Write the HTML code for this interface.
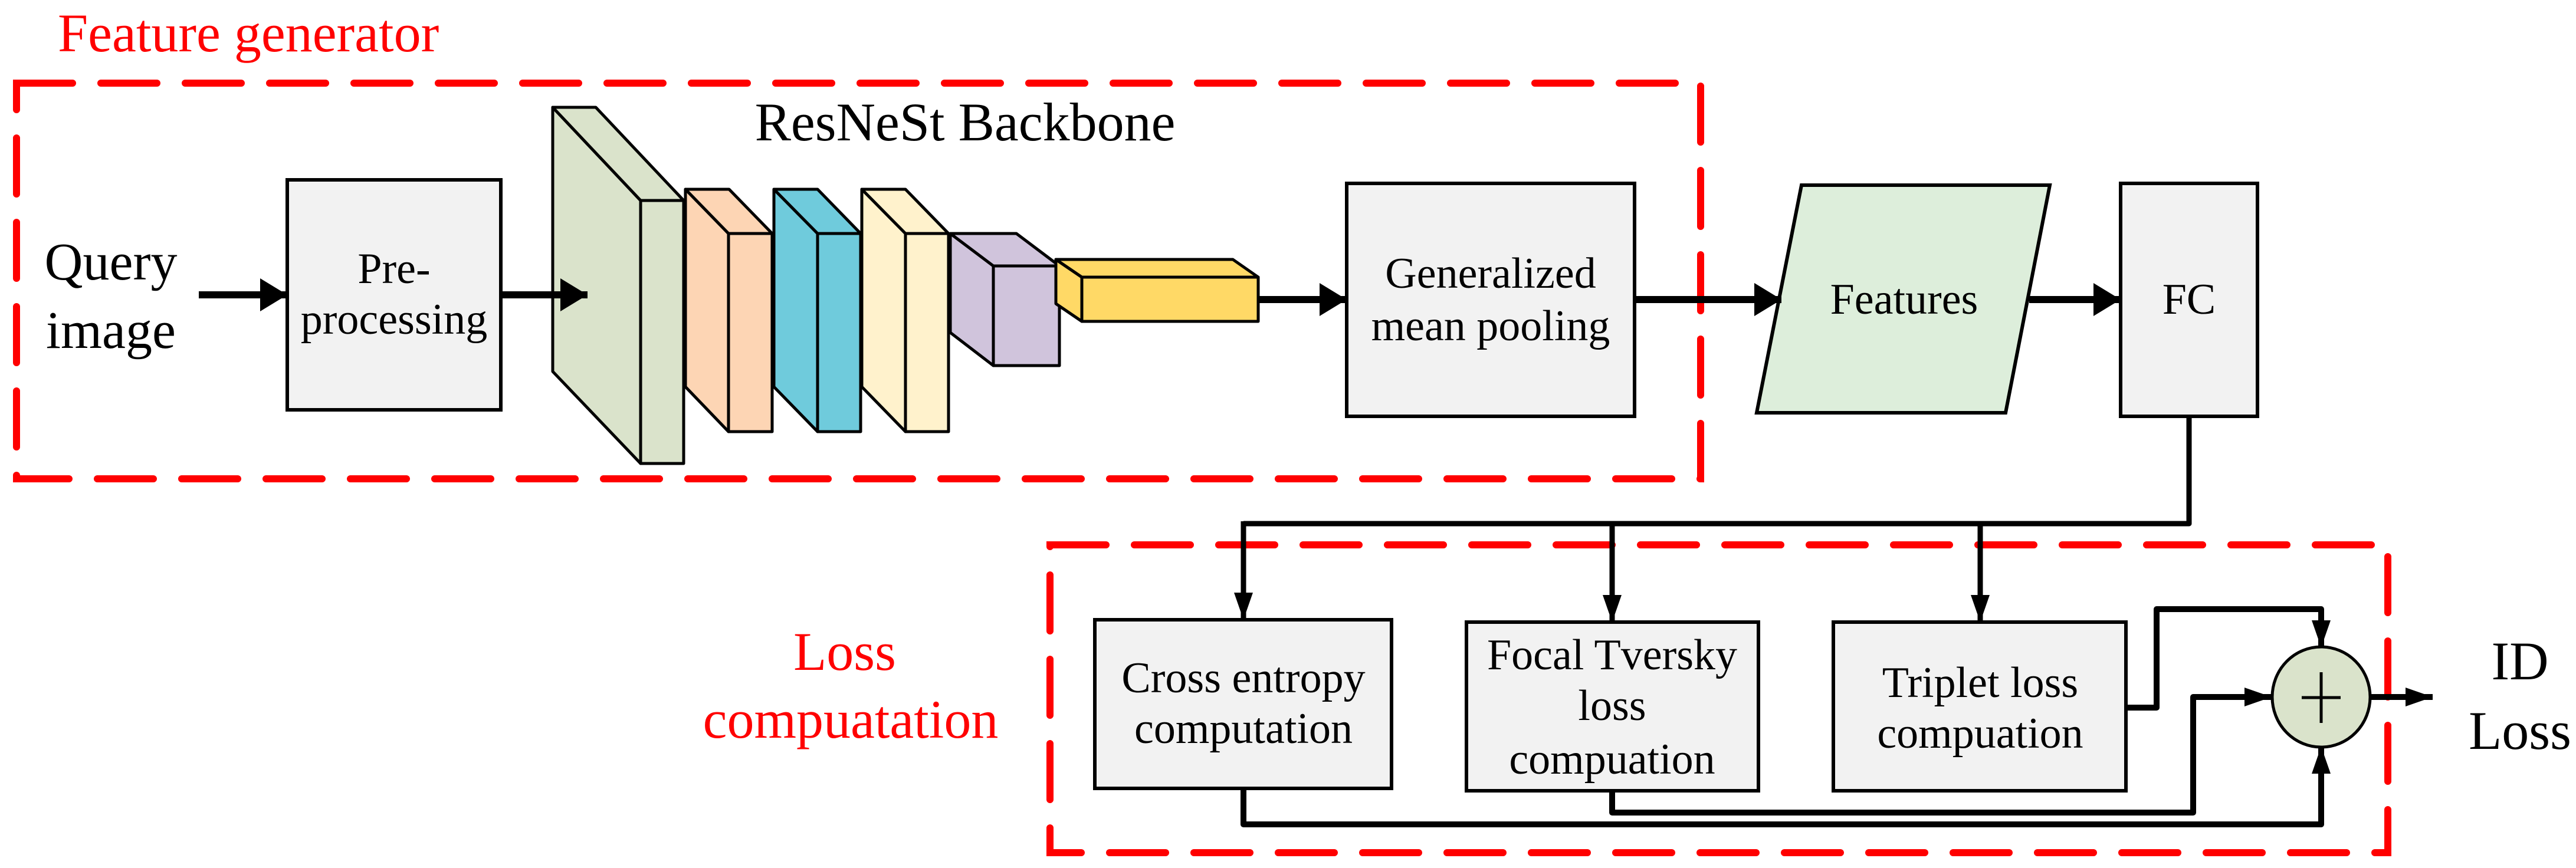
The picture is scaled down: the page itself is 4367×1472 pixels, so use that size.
<!DOCTYPE html>
<html><head><meta charset="utf-8"><style>
html,body{margin:0;padding:0;background:#fff;}
svg{display:block;}
</style></head><body>
<svg width="4367" height="1472" viewBox="0 0 4367 1472" xmlns="http://www.w3.org/2000/svg" font-family="'Liberation Serif', 'Times New Roman', serif">
<defs>
<marker id="ah" markerUnits="userSpaceOnUse" markerWidth="50" markerHeight="60" refX="46" refY="28" orient="auto">
<path d="M0,0 L46,28 L0,56 Z" fill="#000"/>
</marker>
<marker id="ahs" markerUnits="userSpaceOnUse" markerWidth="50" markerHeight="50" refX="46" refY="16" orient="auto">
<path d="M0,0 L46,16 L0,32 Z" fill="#000"/>
</marker>
</defs>

<!-- dashed boxes -->
<rect x="28" y="141" width="2855" height="671" fill="none" stroke="#ff0000" stroke-width="12" stroke-dasharray="95 48" stroke-linecap="round"/>
<rect x="1780" y="924" width="2268" height="522" fill="none" stroke="#ff0000" stroke-width="12" stroke-dasharray="95 48" stroke-linecap="round"/>

<text x="98" y="87" font-size="92" fill="#ff0000" font-family="'Liberation Serif', serif">Feature generator</text>
<text x="1432" y="1136" font-size="92" fill="#ff0000" text-anchor="middle" font-family="'Liberation Serif', serif">Loss</text>
<text x="1442" y="1251" font-size="92" fill="#ff0000" text-anchor="middle" font-family="'Liberation Serif', serif">compuatation</text>

<!-- Query image -->
<text x="188" y="474" font-size="90" text-anchor="middle" font-family="'Liberation Serif', serif">Query</text>
<text x="188" y="590" font-size="90" text-anchor="middle" font-family="'Liberation Serif', serif">image</text>

<!-- Pre-processing -->
<rect x="487" y="305" width="362" height="390" fill="#f2f2f2" stroke="#000" stroke-width="6"/>
<text x="668" y="480" font-size="74" text-anchor="middle" font-family="'Liberation Serif', serif">Pre-</text>
<text x="668" y="566" font-size="74" text-anchor="middle" font-family="'Liberation Serif', serif">processing</text>

<!-- Backbone slabs -->
<g stroke="#000" stroke-width="5" stroke-linejoin="round">
<g fill="#dae3cb">
<polygon points="937,182 1086,340 1086,786 937,630"/>
<polygon points="937,182 1010,182 1159,340 1086,340"/>
<rect x="1086" y="340" width="73" height="446"/>
</g>
<g fill="#fdd5b4">
<polygon points="1162,321 1235,396 1235,732 1162,656"/>
<polygon points="1162,321 1236,321 1309,396 1235,396"/>
<rect x="1235" y="396" width="74" height="336"/>
</g>
<g fill="#6fcbdc">
<polygon points="1312,321 1386,396 1386,732 1312,656"/>
<polygon points="1312,321 1386,321 1459,396 1386,396"/>
<rect x="1386" y="396" width="73" height="336"/>
</g>
<g fill="#fff2cc">
<polygon points="1461,321 1535,396 1535,732 1461,656"/>
<polygon points="1461,321 1535,321 1608,396 1535,396"/>
<rect x="1535" y="396" width="73" height="336"/>
</g>
<g fill="#d0c4dc">
<polygon points="1611,396 1684,451 1684,620 1611,564"/>
<polygon points="1611,396 1723,396 1796,451 1684,451"/>
<rect x="1684" y="451" width="112" height="169"/>
</g>
<g fill="#ffd966">
<polygon points="1790,440 1834,470 1834,545 1790,515"/>
<polygon points="1790,440 2090,440 2133,470 1834,470"/>
<rect x="1834" y="470" width="299" height="75"/>
</g>
</g>
<text x="1636" y="238" font-size="92" text-anchor="middle" font-family="'Liberation Serif', serif">ResNeSt Backbone</text>

<g stroke="#000" stroke-width="12" fill="none">
<line x1="337" y1="500" x2="487" y2="500" marker-end="url(#ah)"/>
<line x1="849" y1="500" x2="996" y2="500" marker-end="url(#ah)"/>
<line x1="2133" y1="508" x2="2283" y2="508" marker-end="url(#ah)"/>
<line x1="2771" y1="508" x2="3020" y2="508" marker-end="url(#ah)"/>
<line x1="3440" y1="508" x2="3595" y2="508" marker-end="url(#ah)"/>
</g>

<!-- GeM -->
<rect x="2283" y="311" width="488" height="395" fill="#f2f2f2" stroke="#000" stroke-width="6"/>
<text x="2527" y="488" font-size="74" text-anchor="middle" font-family="'Liberation Serif', serif">Generalized</text>
<text x="2527" y="577" font-size="74" text-anchor="middle" font-family="'Liberation Serif', serif">mean pooling</text>

<!-- Features -->
<polygon points="3054,314 3475,314 3400,700 2978,700" fill="#ddeedb" stroke="#000" stroke-width="6"/>
<line x1="2990" y1="508" x2="3020" y2="508" stroke="#000" stroke-width="12" marker-end="url(#ah)"/>
<text x="3228" y="532" font-size="74" text-anchor="middle" font-family="'Liberation Serif', serif">Features</text>

<!-- FC -->
<rect x="3595" y="311" width="232" height="395" fill="#f2f2f2" stroke="#000" stroke-width="6"/>
<text x="3711" y="532" font-size="74" text-anchor="middle" font-family="'Liberation Serif', serif">FC</text>

<!-- distribution -->
<g stroke="#000" stroke-width="9" fill="none" stroke-linejoin="round">
<polyline points="3711,706 3711,888 2108,888"/>
<line x1="2108" y1="884" x2="2108" y2="1051" marker-end="url(#ahs)"/>
<line x1="2733" y1="888" x2="2733" y2="1055" marker-end="url(#ahs)"/>
<line x1="3357" y1="888" x2="3357" y2="1055" marker-end="url(#ahs)"/>
</g>

<!-- loss boxes -->
<rect x="1856" y="1051" width="503" height="286" fill="#f2f2f2" stroke="#000" stroke-width="6"/>
<text x="2108" y="1174" font-size="74" text-anchor="middle" font-family="'Liberation Serif', serif">Cross entropy</text>
<text x="2108" y="1260" font-size="74" text-anchor="middle" font-family="'Liberation Serif', serif">computation</text>

<rect x="2486" y="1055" width="495" height="286" fill="#f2f2f2" stroke="#000" stroke-width="6"/>
<text x="2733" y="1135" font-size="74" text-anchor="middle" font-family="'Liberation Serif', serif">Focal Tversky</text>
<text x="2733" y="1221" font-size="74" text-anchor="middle" font-family="'Liberation Serif', serif">loss</text>
<text x="2733" y="1312" font-size="74" text-anchor="middle" font-family="'Liberation Serif', serif">compuation</text>

<rect x="3108" y="1055" width="496" height="286" fill="#f2f2f2" stroke="#000" stroke-width="6"/>
<text x="3357" y="1182" font-size="74" text-anchor="middle" font-family="'Liberation Serif', serif">Triplet loss</text>
<text x="3357" y="1268" font-size="74" text-anchor="middle" font-family="'Liberation Serif', serif">compuation</text>

<!-- connectors into sum -->
<g stroke="#000" stroke-width="10" fill="none" stroke-linejoin="round">
<polyline points="3604,1200 3656,1200 3656,1033 3935,1033 3935,1098" marker-end="url(#ahs)"/>
<polyline points="2733,1341 2733,1378 3718,1378 3718,1182 3851,1182" marker-end="url(#ahs)"/>
<polyline points="2108,1337 2108,1398 3935,1398 3935,1266" marker-end="url(#ahs)"/>
<line x1="4019" y1="1182" x2="4124" y2="1182" marker-end="url(#ahs)"/>
</g>

<ellipse cx="3935" cy="1182" rx="83" ry="85" fill="#dae3cb" stroke="#000" stroke-width="5"/>
<line x1="3935" y1="1140" x2="3935" y2="1226" stroke="#000" stroke-width="5"/>
<line x1="3902" y1="1183" x2="3968" y2="1183" stroke="#000" stroke-width="5"/>

<text x="4272" y="1152" font-size="92" text-anchor="middle" font-family="'Liberation Serif', serif">ID</text>
<text x="4272" y="1270" font-size="92" text-anchor="middle" font-family="'Liberation Serif', serif">Loss</text>
</svg>
</body></html>
